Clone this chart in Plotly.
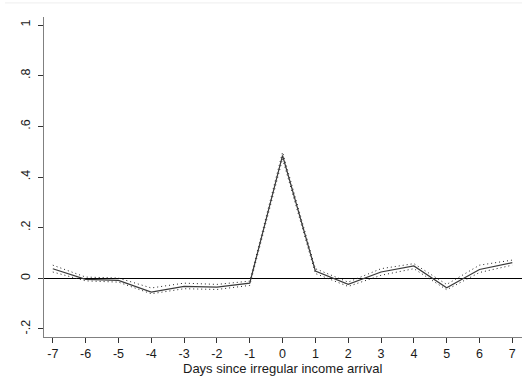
import plotly.graph_objects as go

days = [-7, -6, -5, -4, -3, -2, -1, 0, 1, 2, 3, 4, 5, 6, 7]
estimate = [0.038, -0.004, -0.008, -0.054, -0.032, -0.035, -0.019, 0.485, 0.029, -0.024, 0.025, 0.049, -0.037, 0.035, 0.062]
upper = [0.052, 0.005, 0.001, -0.038, -0.019, -0.024, -0.011, 0.498, 0.038, -0.015, 0.038, 0.058, -0.024, 0.052, 0.072]
lower = [0.025, -0.010, -0.015, -0.061, -0.041, -0.044, -0.028, 0.472, 0.019, -0.032, 0.012, 0.038, -0.045, 0.023, 0.052]

y_tickvals = [-0.2, 0, 0.2, 0.4, 0.6, 0.8, 1]
y_ticktext = ["-.2", "0", ".2", ".4", ".6", ".8", "1"]
x_tickvals = days
x_ticktext = [str(d) for d in days]
x_title = "Days since irregular income arrival"

tick_font = dict(family="Liberation Sans, Arial, sans-serif", size=12.5, color="#1a1a1a")
title_font = dict(family="Liberation Sans, Arial, sans-serif", size=13, color="#1a1a1a")

fig = go.Figure()
fig.add_trace(go.Scatter(x=days, y=upper, mode="lines",
                         line=dict(color="#222222", width=1, dash="1px,3px")))
fig.add_trace(go.Scatter(x=days, y=lower, mode="lines",
                         line=dict(color="#222222", width=1, dash="1px,3px")))
fig.add_trace(go.Scatter(x=days, y=estimate, mode="lines",
                         line=dict(color="#3a3a3a", width=1.2)))

fig.update_layout(
    width=522, height=378,
    margin=dict(l=44, r=0, t=17, b=41),
    paper_bgcolor="white", plot_bgcolor="white",
    showlegend=False,
    font=tick_font,
    xaxis=dict(range=[-7.268, 7.295], tickvals=x_tickvals, ticktext=x_ticktext,
               showgrid=False, zeroline=False, showline=True, linecolor="#808080",
               linewidth=1, ticks="outside", ticklen=5, tickcolor="#333",
               tickfont=tick_font),
    yaxis=dict(range=[-0.2316, 1.0316], tickvals=y_tickvals, ticktext=y_ticktext,
               tickangle=-90, showgrid=False, zeroline=True, zerolinecolor="black",
               zerolinewidth=1, showline=True, linecolor="#808080", linewidth=1,
               ticks="outside", ticklen=5, tickcolor="#333", tickfont=tick_font,
               ticklabelstandoff=3),
    annotations=[dict(text=x_title, xref="paper", yref="paper", x=0.5, y=0,
                      xanchor="center", yanchor="middle", yshift=-31,
                      showarrow=False, font=title_font)],
    shapes=[dict(type="line", xref="paper", yref="paper", x0=-0.0816, x1=1,
                 y0=1.044, y1=1.044, line=dict(color="#eeeeee", width=1))],
)

fig.write_html("out.html")
